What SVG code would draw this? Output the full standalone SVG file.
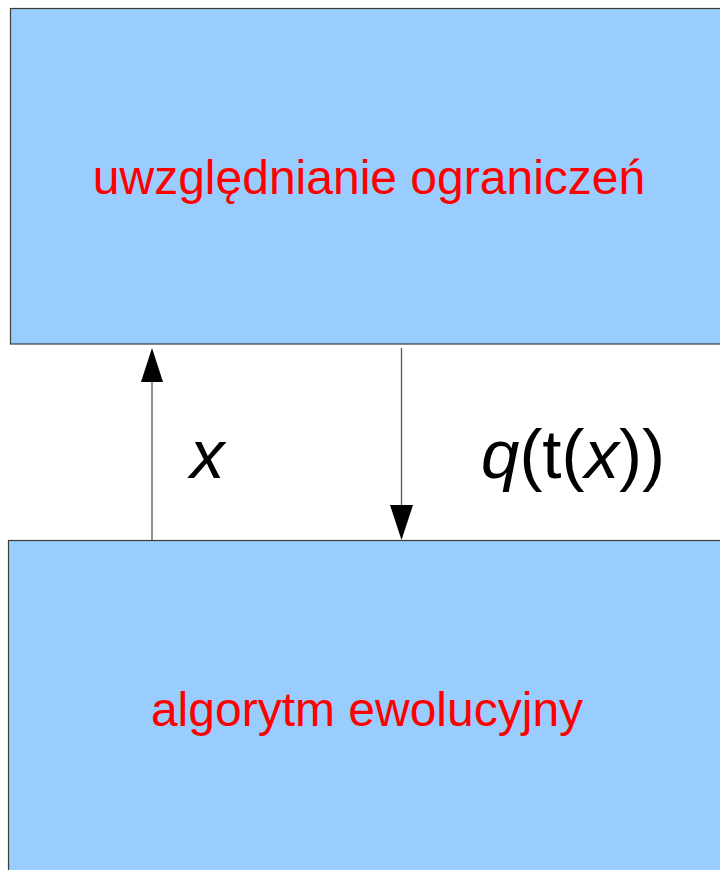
<svg xmlns="http://www.w3.org/2000/svg" width="720" height="870" viewBox="0 0 720 870">
<style>
.box{fill:#99ccff;stroke:#3c3c3c;stroke-width:1.2}
.lbl{font-family:"Liberation Sans",Arial,sans-serif;font-size:48px;fill:#ff0000;text-anchor:middle}
.m{font-family:"Liberation Sans",Arial,sans-serif;font-size:69px;fill:#000}
.ln{stroke:#555;stroke-width:1.3;fill:none}
</style>
<g id="top">
<rect class="box" x="10.5" y="8.5" width="720" height="335.5"/>
<text class="lbl" x="369" y="194">uwzględnianie ograniczeń</text>
</g>
<g id="bottom">
<rect class="box" x="8.5" y="540.5" width="720" height="340"/>
<text class="lbl" x="367" y="726">algorytm ewolucyjny</text>
</g>
<g id="connectors">
<line class="ln" x1="152" y1="540" x2="152" y2="380"/>
<polygon points="152,348 141,382 163,382" fill="#000"/>
<line class="ln" x1="401.5" y1="348" x2="401.5" y2="508"/>
<polygon points="401.5,540 390,505 413,505" fill="#000"/>
<text class="m" x="190" y="478" font-style="italic">x</text>
<text class="m" x="481" y="478"><tspan font-style="italic">q</tspan>(t(<tspan font-style="italic">x</tspan>))</text>
</g>
</svg>
